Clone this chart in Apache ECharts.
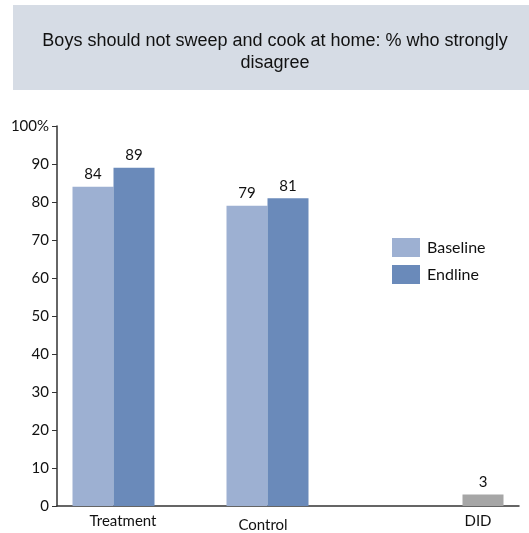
<!DOCTYPE html>
<html>
<head>
<meta charset="utf-8">
<script src="https://cdn.jsdelivr.net/npm/echarts@6/dist/echarts.min.js"></script>
<style>
  html, body { margin: 0; padding: 0; background: #fff; }
  #chart { width: 529px; height: 533px; }
</style>
</head>
<body>
<div id="chart"></div>
<script>
// Categories and values
const categories = ['Treatment', 'Control', 'DID'];
const baseline = [84, 79, null];
const endline = [89, 81, null];
const did = [null, null, 3];
const yTicks = ['0', '10', '20', '30', '40', '50', '60', '70', '80', '90', '100%'];
const titleText = 'Boys should not sweep and cook at home: % who strongly\ndisagree';

const chart = echarts.init(document.getElementById('chart'), null, { renderer: 'canvas' });

const labelFont = 'Lato, "Open Sans", sans-serif';
const valueLabel = {
  show: true,
  position: 'top',
  distance: 5,
  color: '#111',
  fontSize: 15,
  fontFamily: labelFont
};

const option = {
  animation: false,
  graphic: [{
    type: 'rect',
    left: 13,
    top: 5,
    z: -1,
    shape: { width: 530, height: 85 },
    style: { fill: '#d6dce5' }
  }],
  title: {
    text: titleText,
    left: 270,
    top: 25,
    textAlign: 'center',
    textStyle: {
      fontFamily: '"Liberation Sans", Arial, sans-serif',
      fontSize: 18,
      fontWeight: 'normal',
      color: '#111',
      lineHeight: 22
    }
  },
  legend: {
    orient: 'vertical',
    left: 387,
    top: 233,
    itemWidth: 28,
    itemHeight: 19,
    itemGap: 8,
    icon: 'rect',
    data: ['Baseline', 'Endline'],
    textStyle: { fontSize: 16, fontFamily: labelFont, color: '#111', padding: [0, 0, 0, 2] }
  },
  grid: { left: 57, right: 10, top: 126, bottom: 26, containLabel: false },
  xAxis: {
    type: 'category',
    data: categories,
    axisLine: { lineStyle: { color: '#333', width: 1.5 } },
    axisTick: { show: false },
    axisLabel: {
      interval: 0,
      margin: 8,
      fontSize: 15,
      fontFamily: labelFont,
      color: '#111',
      formatter: (v) => '{' + v + '|' + v + '}',
      rich: {
        Treatment: { fontSize: 15, fontFamily: labelFont, color: '#111', padding: [0, 22, 0, 0] },
        Control: { fontSize: 15, fontFamily: labelFont, color: '#111', padding: [4, 50, 0, 0] },
        DID: { fontSize: 15, fontFamily: labelFont, color: '#111', padding: [0, 0, 0, 72] }
      }
    }
  },
  yAxis: {
    type: 'value',
    min: 0,
    max: 100,
    interval: 10,
    splitLine: { show: false },
    axisLine: { show: true, lineStyle: { color: '#333', width: 1.5 } },
    axisTick: { show: true, length: 5, lineStyle: { color: '#333' } },
    axisLabel: {
      margin: 8,
      fontSize: 15,
      fontFamily: labelFont,
      color: '#111',
      formatter: (v) => yTicks[Math.round(v / 10)]
    }
  },
  series: [
    {
      name: 'Baseline',
      type: 'bar',
      data: baseline,
      barWidth: 41,
      barGap: '0%',
      itemStyle: { color: '#9db0d2' },
      label: valueLabel
    },
    {
      name: 'Endline',
      type: 'bar',
      data: endline,
      barWidth: 41,
      barGap: '0%',
      itemStyle: { color: '#6a8aba' },
      label: valueLabel
    },
    {
      name: 'DID',
      type: 'bar',
      data: did,
      barWidth: 41,
      barGap: '0%',
      itemStyle: { color: '#a6a6a6' },
      label: valueLabel
    }
  ]
};

chart.setOption(option);
</script>
</body>
</html>
